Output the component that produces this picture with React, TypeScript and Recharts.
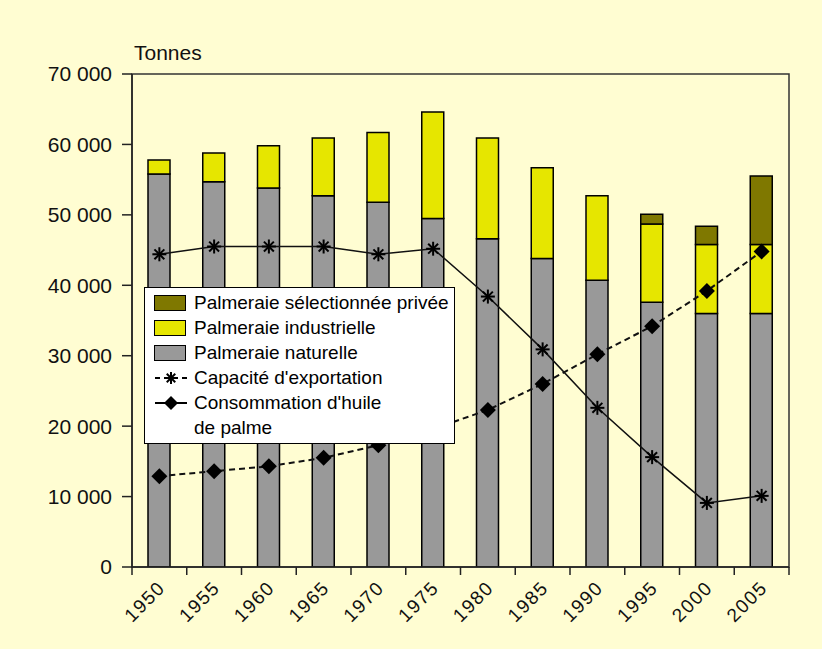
import { ComposedChart, Bar, Line, XAxis, YAxis, ReferenceArea } from "recharts";

const years = ["1950", "1955", "1960", "1965", "1970", "1975", "1980", "1985", "1990", "1995", "2000", "2005"];
const naturelle = [55800, 54700, 53800, 52700, 51800, 49500, 46600, 43800, 40700, 37600, 36000, 36000];
const industrielle = [2000, 4100, 6000, 8200, 9900, 15100, 14300, 12900, 12000, 11100, 9800, 9800];
const selectionnee = [null, null, null, null, null, null, null, null, null, 1400, 2600, 9700];
const exportation = [44400, 45500, 45500, 45500, 44400, 45200, 38400, 30900, 22600, 15600, 9100, 10100];
const consommation = [12900, 13600, 14300, 15500, 17300, 19600, 22300, 26000, 30200, 34200, 39200, 44800];
const yTicks = [0, 10000, 20000, 30000, 40000, 50000, 60000, 70000];

const data = years.map((year, i) => ({
  year,
  naturelle: naturelle[i],
  industrielle: industrielle[i],
  selectionnee: selectionnee[i],
  exportation: exportation[i],
  consommation: consommation[i],
}));

const FONT = "'Liberation Sans', Arial, sans-serif";
const BG = "#FFFDD2";
const GREY = "#999999";
const YELLOW = "#E6E600";
const OLIVE = "#7F7800";
const W = 822;
const H = 649;
const M = { top: 74, right: 33, left: 0, bottom: 0 };
const Y_W = 132;
const X_H = 82;
const BAND = (W - M.right - Y_W) / years.length;

const fmt = (v: number) => (v === 0 ? "0" : `${Math.round(v / 1000)} 000`);

function Star({ cx, cy, size = 7 }: any) {
  if (cx == null || cy == null) return null;
  const d = size * Math.SQRT1_2;
  return (
    <g stroke="#000" strokeWidth={2}>
      <line x1={cx - size} y1={cy} x2={cx + size} y2={cy} />
      <line x1={cx} y1={cy - size} x2={cx} y2={cy + size} />
      <line x1={cx - d} y1={cy - d} x2={cx + d} y2={cy + d} />
      <line x1={cx - d} y1={cy + d} x2={cx + d} y2={cy - d} />
    </g>
  );
}

function Diamond({ cx, cy, size = 8 }: any) {
  if (cx == null || cy == null) return null;
  return (
    <polygon
      points={`${cx},${cy - size} ${cx + size},${cy} ${cx},${cy + size} ${cx - size},${cy}`}
      fill="#000"
      stroke="none"
    />
  );
}

function YearTick({ x, y, payload, index }: any) {
  const last = index === years.length - 1;
  const ax = x + 7;
  const ay = y + 22;
  return (
    <g>
      <line x1={x - BAND / 2} y1={y} x2={x - BAND / 2} y2={y + 8} stroke="#222" strokeWidth={1.5} />
      {last && <line x1={x + BAND / 2} y1={y} x2={x + BAND / 2} y2={y + 8} stroke="#222" strokeWidth={1.5} />}
      <text
        x={ax}
        y={ay}
        textAnchor="end"
        transform={`rotate(-45 ${ax} ${ay})`}
        fontSize={19}
        letterSpacing={1.5}
        fontFamily={FONT}
        fill="#111"
      >
        {payload.value}
      </text>
    </g>
  );
}

function LegendBox() {
  const swatch = (color: string, label: string) => (
    <div style={{ display: "flex", alignItems: "center", height: 25 }}>
      <div style={{ width: 30, height: 14, background: color, border: "1px solid #000", marginRight: 8 }} />
      <span>{label}</span>
    </div>
  );
  const lineItem = (label: string, marker: "star" | "diamond", dashed: boolean) => (
    <div style={{ display: "flex", alignItems: "center", height: 25 }}>
      <svg width={34} height={20} style={{ marginRight: 6 }}>
        <line x1={1} y1={10} x2={33} y2={10} stroke="#000" strokeWidth={2} strokeDasharray={dashed ? "5 4" : undefined} />
        {marker === "star" ? <Star cx={17} cy={10} size={6} /> : <Diamond cx={17} cy={10} size={7} />}
      </svg>
      <span>{label}</span>
    </div>
  );
  return (
    <div
      style={{
        position: "absolute",
        left: 144,
        top: 287,
        background: "#fff",
        border: "1px solid #000",
        padding: "2px 0 0 9px",
        fontFamily: FONT,
        fontSize: 19,
        color: "#000",
        boxSizing: "border-box",
        width: 311,
        height: 157,
        lineHeight: "20px",
        whiteSpace: "nowrap",
      }}
    >
      {swatch(OLIVE, "Palmeraie sélectionnée privée")}
      {swatch(YELLOW, "Palmeraie industrielle")}
      {swatch(GREY, "Palmeraie naturelle")}
      {lineItem("Capacité d'exportation", "star", true)}
      {lineItem("Consommation d'huile", "diamond", false)}
      <div style={{ paddingLeft: 40, height: 25, display: "flex", alignItems: "center" }}>de palme</div>
    </div>
  );
}

export default function App() {
  return (
    <div style={{ position: "fixed", left: 0, top: 0, width: W, height: H, background: BG }}>
      <div style={{ position: "absolute", left: 134, top: 41, fontFamily: FONT, fontSize: 21, color: "#111" }}>Tonnes</div>
      <ComposedChart width={W} height={H} data={data} margin={M} barSize={22}>
        <ReferenceArea y1={0} y2={70000} fill="none" stroke="#333" strokeWidth={1.5} ifOverflow="visible" />
        <XAxis
          dataKey="year"
          height={X_H}
          tickLine={false}
          tickSize={0}
          tickMargin={0}
          axisLine={{ stroke: "#222", strokeWidth: 1.5 }}
          tick={<YearTick />}
          interval={0}
        />
        <YAxis
          width={Y_W}
          domain={[0, 70000]}
          ticks={yTicks}
          tickFormatter={fmt}
          tickSize={10}
          tickMargin={10}
          axisLine={{ stroke: "#222", strokeWidth: 1.5 }}
          tickLine={{ stroke: "#222", strokeWidth: 1.5 }}
          tick={{ fontSize: 21, fontFamily: FONT, fill: "#111" }}
          allowDataOverflow
        />
        <Bar dataKey="naturelle" stackId="a" fill={GREY} stroke="#000" strokeWidth={1.5} isAnimationActive={false} />
        <Bar dataKey="industrielle" stackId="a" fill={YELLOW} stroke="#000" strokeWidth={1.5} isAnimationActive={false} />
        <Bar dataKey="selectionnee" stackId="a" fill={OLIVE} stroke="#000" strokeWidth={1.5} isAnimationActive={false} />
        <Line
          dataKey="exportation"
          stroke="#111"
          strokeWidth={1.5}
          dot={(p: any) => <Star key={`s-${p.index}`} cx={p.cx} cy={p.cy} />}
          activeDot={false}
          isAnimationActive={false}
          type="linear"
        />
        <Line
          dataKey="consommation"
          stroke="#111"
          strokeWidth={2}
          strokeDasharray="6 4"
          dot={(p: any) => <Diamond key={`d-${p.index}`} cx={p.cx} cy={p.cy} />}
          activeDot={false}
          isAnimationActive={false}
          type="linear"
        />
      </ComposedChart>
      <LegendBox />
    </div>
  );
}
